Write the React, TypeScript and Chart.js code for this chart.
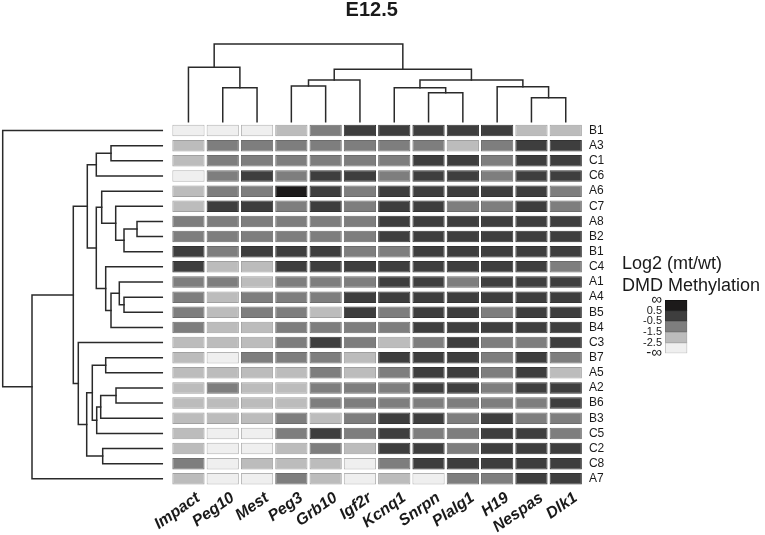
import React, { useEffect, useRef } from 'react';
import { Chart, registerables } from 'chart.js';

Chart.register(...registerables);
Chart.defaults.font.family = "'Liberation Sans', Arial, Helvetica, sans-serif";
Chart.defaults.color = '#1a1a1a';

// ---------------- data ----------------
const TITLE = 'E12.5';
const LEGEND_TITLE = ['Log2 (mt/wt)', 'DMD Methylation'];

const GENES = ['Impact', 'Peg10', 'Mest', 'Peg3', 'Grb10', 'Igf2r', 'Kcnq1', 'Snrpn', 'Plalg1', 'H19', 'Nespas', 'Dlk1'];
const SAMPLES = ['B1', 'A3', 'C1', 'C6', 'A6', 'C7', 'A8', 'B2', 'B1', 'C4', 'A1', 'A4', 'B5', 'B4', 'C3', 'B7', 'A5', 'A2', 'B6', 'B3', 'C5', 'C2', 'C8', 'A7'];

// methylation bin per cell: 0 = < -2.5, 1 = -2.5..-1.5, 2 = -1.5..-0.5, 3 = -0.5..0.5, 4 = > 0.5
const BINS: number[][] = [
  [0, 0, 0, 1, 2, 3, 3, 3, 3, 3, 1, 1], // B1
  [1, 2, 2, 2, 2, 2, 2, 2, 1, 2, 3, 3], // A3
  [1, 2, 2, 2, 2, 2, 2, 3, 3, 2, 3, 3], // C1
  [0, 2, 3, 2, 3, 3, 2, 3, 3, 2, 3, 3], // C6
  [1, 2, 2, 4, 3, 2, 3, 3, 3, 3, 3, 2], // A6
  [1, 3, 3, 2, 3, 2, 3, 3, 2, 2, 3, 2], // C7
  [2, 2, 2, 2, 2, 2, 3, 3, 3, 3, 3, 3], // A8
  [2, 2, 2, 2, 2, 2, 3, 3, 3, 3, 3, 3], // B2
  [3, 2, 3, 3, 3, 2, 2, 3, 3, 3, 3, 3], // B1
  [3, 1, 1, 3, 3, 3, 3, 3, 3, 3, 3, 2], // C4
  [2, 2, 1, 2, 2, 2, 3, 3, 2, 3, 3, 3], // A1
  [2, 1, 2, 2, 2, 3, 3, 3, 3, 3, 3, 3], // A4
  [2, 1, 2, 2, 1, 3, 2, 3, 3, 2, 3, 3], // B5
  [2, 1, 1, 2, 2, 2, 2, 3, 3, 3, 3, 3], // B4
  [1, 1, 1, 2, 3, 2, 1, 2, 3, 2, 2, 3], // C3
  [1, 0, 2, 2, 2, 1, 3, 3, 3, 2, 3, 2], // B7
  [1, 1, 1, 1, 2, 1, 2, 3, 3, 2, 3, 1], // A5
  [1, 2, 1, 1, 2, 2, 2, 3, 3, 2, 3, 3], // A2
  [1, 1, 1, 1, 2, 2, 2, 2, 2, 2, 2, 3], // B6
  [1, 1, 1, 2, 1, 2, 3, 3, 2, 3, 2, 2], // B3
  [1, 0, 0, 2, 3, 2, 3, 2, 2, 3, 3, 2], // C5
  [1, 0, 0, 1, 2, 1, 3, 3, 2, 3, 3, 3], // C2
  [2, 0, 1, 1, 1, 0, 2, 3, 3, 3, 3, 3], // C8
  [1, 0, 0, 2, 1, 0, 1, 0, 2, 2, 3, 3], // A7
];

const KEY_LABELS = ['-\u221E', '-2.5', '-1.5', '-0.5', '0.5', '\u221E'];

// column dendrogram (R hclust style: negative = leaf, positive = earlier merge)
const COL_MERGES: [number, number][] = [
  [-2, -3], [-1, 1], [-4, -5], [3, -6], [-8, -9], [-7, 5],
  [-11, -12], [-10, 7], [6, 8], [4, 9], [2, 10],
];
const COL_HEIGHTS = [34, 54.4, 35.7, 41.7, 29, 34, 24, 35, 41.7, 52.4, 77.7];

// row dendrogram
const ROW_MERGES: [number, number][] = [
  [-2, -3], [-4, 1], [-7, -8], [3, -9], [-6, 4], [-5, 5],
  [-12, -13], [-11, 7], [8, -14], [-10, 9], [6, 10], [2, 11],
  [-16, -17], [-18, -19], [14, -20], [15, -21], [13, 16], [-22, -23],
  [17, 18], [-15, 19], [12, 20], [21, -24], [-1, 22],
];
const ROW_HEIGHTS = [51.3, 66, 25.3, 38.3, 46.6, 60.6, 38.3, 43, 51.3, 56.6, 66, 75, 56.6, 46.3, 61.6, 65.6, 70, 59.6, 75.6, 84, 89, 130.3, 159.6];

// ---------------- styles ----------------
const FILL = ['#efefef', '#bcbcbc', '#7e7e7e', '#3e3e3e', '#1c1a1a'];
const EDGE = ['#b4b4b4', '#a0a0a0', '#6c6c6c', '#333333', '#111111'];
const LINE = '#2a2a2a';
const FONT = "'Liberation Sans', Arial, Helvetica, sans-serif";
const W = 765;
const H = 535;
const HM = { left: 171.3, right: 582.9, top: 123, bottom: 486.4 };
const HALF = 0.47;

type Seg = { p: number; h: number }[];
function dendroSegments(merges: [number, number][], heights: number[]): Seg[] {
  const pos: number[] = [];
  const segs: Seg[] = [];
  const info = (id: number) => (id < 0 ? { p: -id - 1, h: 0 } : { p: pos[id - 1], h: heights[id - 1] });
  merges.forEach(([a, b], k) => {
    const A = info(a);
    const B = info(b);
    const hk = heights[k];
    segs.push([{ p: A.p, h: A.h }, { p: A.p, h: hk }, { p: B.p, h: hk }, { p: B.p, h: B.h }]);
    pos[k] = (A.p + B.p) / 2;
  });
  return segs;
}

const lineStyle = {
  showLine: true,
  pointRadius: 0,
  pointHoverRadius: 0,
  borderColor: LINE,
  borderWidth: 1.5,
  tension: 0,
  fill: false,
  clip: false as const,
  borderCapStyle: 'square' as const,
  borderJoinStyle: 'miter' as const,
};

const titlePlugin = {
  id: 'mainTitle',
  afterDraw(chart: any) {
    const ctx = chart.ctx;
    ctx.save();
    ctx.font = `bold 20px ${FONT}`;
    ctx.fillStyle = '#1a1a1a';
    ctx.textAlign = 'center';
    ctx.textBaseline = 'middle';
    ctx.fillText(TITLE, 371.7, 10);
    ctx.restore();
  },
};

const keyTitlePlugin = {
  id: 'keyTitle',
  afterDraw(chart: any) {
    const ctx = chart.ctx;
    ctx.save();
    ctx.font = `18px ${FONT}`;
    ctx.fillStyle = '#1a1a1a';
    ctx.textAlign = 'left';
    ctx.textBaseline = 'middle';
    LEGEND_TITLE.forEach((t, i) => ctx.fillText(t, 622, 264 + i * 22.5));
    ctx.restore();
  },
};

const base = {
  animation: false as const,
  responsive: false,
  devicePixelRatio: 1,
  events: [] as any[],
};

export default function App() {
  const heatRef = useRef<HTMLCanvasElement>(null);
  const topRef = useRef<HTMLCanvasElement>(null);
  const leftRef = useRef<HTMLCanvasElement>(null);
  const keyRef = useRef<HTMLCanvasElement>(null);

  useEffect(() => {
    const charts: Chart[] = [];

    // heatmap
    const heatDatasets = GENES.map((g, c) => ({
      label: g,
      data: SAMPLES.map(() => [c - HALF, c + HALF]),
      backgroundColor: BINS.map((r) => FILL[r[c]]),
      borderColor: BINS.map((r) => EDGE[r[c]]),
      borderWidth: 1,
      borderSkipped: false,
      grouped: false,
      barPercentage: 0.76,
      categoryPercentage: 1,
    }));
    charts.push(
      new Chart(heatRef.current!, {
        type: 'bar',
        data: { labels: SAMPLES, datasets: heatDatasets as any },
        options: {
          ...base,
          indexAxis: 'y',
          layout: { padding: { left: HM.left, top: HM.top, right: 0, bottom: 0 } },
          plugins: { legend: { display: false }, tooltip: { enabled: false } },
          scales: {
            x: {
              type: 'linear',
              min: -0.5,
              max: GENES.length - 0.5,
              position: 'bottom',
              grid: { display: false, drawTicks: false },
              border: { display: false },
              afterBuildTicks: (s: any) => {
                s.ticks = GENES.map((_, i) => ({ value: i }));
              },
              afterFit: (s: any) => {
                s.height = H - HM.bottom;
              },
              ticks: {
                autoSkip: false,
                minRotation: 35,
                maxRotation: 35,
                labelOffset: 10,
                padding: 2,
                color: '#1a1a1a',
                font: { size: 16, style: 'italic', weight: 'bold' },
                callback: (v: any) => GENES[v as number],
              },
            },
            y: {
              type: 'category',
              position: 'right',
              grid: { display: false, drawTicks: false },
              border: { display: false },
              afterFit: (s: any) => {
                s.width = W - HM.right;
              },
              ticks: { padding: 6, color: '#1a1a1a', font: { size: 12 }, autoSkip: false },
            },
          },
        } as any,
        plugins: [titlePlugin],
      })
    );

    // column dendrogram
    const topSegs = dendroSegments(COL_MERGES, COL_HEIGHTS);
    charts.push(
      new Chart(topRef.current!, {
        type: 'scatter',
        data: {
          datasets: topSegs.map((s) => ({ ...lineStyle, data: s.map((q) => ({ x: q.p, y: q.h })) })),
        },
        options: {
          ...base,
          layout: { padding: { left: HM.left, right: W - HM.right, top: 44, bottom: H - 121.7 } },
          plugins: { legend: { display: false }, tooltip: { enabled: false } },
          scales: {
            x: { type: 'linear', display: false, min: -0.5, max: GENES.length - 0.5 },
            y: { type: 'linear', display: false, min: 0, max: Math.max(...COL_HEIGHTS) },
          },
        } as any,
      })
    );

    // row dendrogram
    const leftSegs = dendroSegments(ROW_MERGES, ROW_HEIGHTS);
    charts.push(
      new Chart(leftRef.current!, {
        type: 'scatter',
        data: {
          datasets: leftSegs.map((s) => ({ ...lineStyle, data: s.map((q) => ({ x: q.h, y: q.p })) })),
        },
        options: {
          ...base,
          layout: { padding: { left: 2.7, right: W - 162.3, top: HM.top, bottom: H - HM.bottom } },
          plugins: { legend: { display: false }, tooltip: { enabled: false } },
          scales: {
            x: { type: 'linear', display: false, min: 0, max: Math.max(...ROW_HEIGHTS), reverse: true },
            y: { type: 'linear', display: false, min: -0.5, max: SAMPLES.length - 0.5, reverse: true },
          },
        } as any,
      })
    );

    // colour key
    charts.push(
      new Chart(keyRef.current!, {
        type: 'bar',
        data: {
          labels: [''],
          datasets: FILL.map((c, i) => ({
            label: KEY_LABELS[i],
            data: [1],
            backgroundColor: c,
            borderColor: EDGE[i],
            borderWidth: 1,
            borderSkipped: false,
            barPercentage: 1,
            categoryPercentage: 1,
          })),
        },
        options: {
          ...base,
          layout: { padding: { left: 622, right: W - 687.3, top: 300, bottom: H - 353.3 } },
          plugins: { legend: { display: false }, tooltip: { enabled: false } },
          scales: {
            x: { stacked: true, display: false },
            y: {
              stacked: true,
              min: 0,
              max: FILL.length,
              grid: { display: false, drawTicks: false },
              border: { display: false },
              afterFit: (s: any) => {
                s.width = 43;
              },
              ticks: {
                stepSize: 1,
                autoSkip: false,
                padding: 3,
                color: '#1a1a1a',
                font: (ctx: any) => {
                  const v = ctx.tick ? Math.round(ctx.tick.value) : 1;
                  return { size: v === 0 || v === FILL.length ? 15 : 11 };
                },
                callback: (v: any) => KEY_LABELS[Math.round(v as number)],
              },
            },
          },
        } as any,
        plugins: [keyTitlePlugin],
      })
    );

    return () => charts.forEach((c) => c.destroy());
  }, []);

  const cs: React.CSSProperties = { position: 'absolute', left: 0, top: 0, width: W, height: H };
  return (
    <div style={{ position: 'absolute', left: 0, top: 0, width: W, height: H, background: '#fff' }}>
      <canvas ref={leftRef} width={W} height={H} style={cs} />
      <canvas ref={topRef} width={W} height={H} style={cs} />
      <canvas ref={heatRef} width={W} height={H} style={cs} />
      <canvas ref={keyRef} width={W} height={H} style={cs} />
    </div>
  );
}
